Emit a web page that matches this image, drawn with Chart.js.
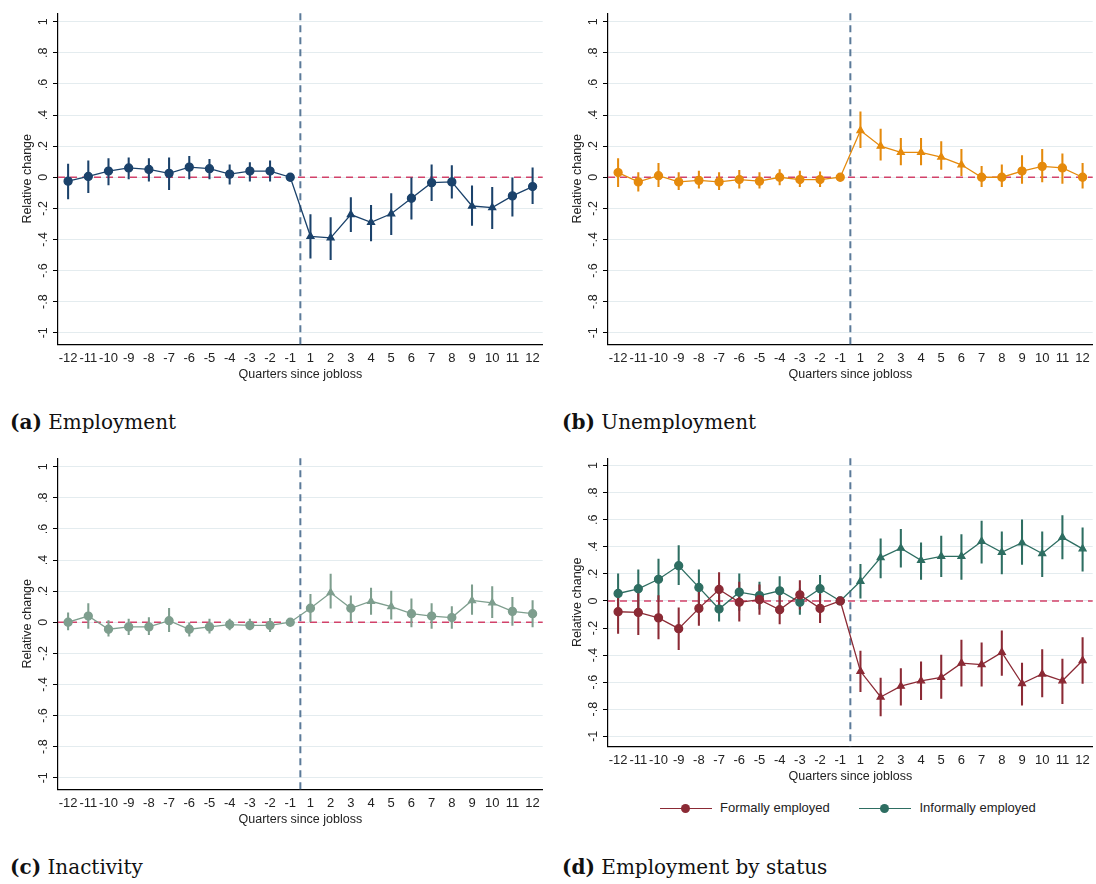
<!DOCTYPE html>
<html>
<head>
<meta charset="utf-8">
<script src="https://cdn.jsdelivr.net/npm/chart.js@4"></script>
<style>
  body { margin: 0; background: #fff; width: 1096px; height: 884px; position: relative; font-family: "Liberation Sans", Arial, sans-serif; }
  .box { position: absolute; }
  .cap { position: absolute; font-family: "DejaVu Serif", "Liberation Serif", serif; font-size: 20px; color: #111; }
  .cap b { font-weight: bold; }
  .legend { position: absolute; left: 660px; top: 800px; font-size: 13px; color: #222; }
  .legend span.item { display: inline-block; margin-right: 26px; }
  .sw { display: inline-block; position: relative; width: 52px; height: 10px; margin-right: 8px; vertical-align: middle; }
  .sw i { position: absolute; left: 0; right: 0; top: 4px; height: 1.5px; }
  .sw b { position: absolute; left: 21px; top: 0; width: 9px; height: 9px; border-radius: 50%; }
</style>
</head>
<body>
<div class="box" style="left:10px;top:4px;width:538px;height:378px"><canvas id="ca"></canvas></div>
<div class="box" style="left:560px;top:4px;width:538px;height:378px"><canvas id="cb"></canvas></div>
<div class="box" style="left:10px;top:449px;width:538px;height:378px"><canvas id="cc"></canvas></div>
<div class="box" style="left:560px;top:449px;width:538px;height:335px"><canvas id="cd"></canvas></div>
<div class="cap" style="left:10px;top:410px"><b>(a)</b> Employment</div>
<div class="cap" style="left:562px;top:410px"><b>(b)</b> Unemployment</div>
<div class="cap" style="left:10px;top:855px"><b>(c)</b> Inactivity</div>
<div class="cap" style="left:562px;top:855px"><b>(d)</b> Employment by status</div>
<div class="legend">
  <span class="item"><span class="sw"><i style="background:#8b2a35"></i><b style="background:#8b2a35"></b></span>Formally employed</span>
  <span class="item"><span class="sw"><i style="background:#2e6e62"></i><b style="background:#2e6e62"></b></span>Informally employed</span>
</div>
<script>
const quarters = ["-12","-11","-10","-9","-8","-7","-6","-5","-4","-3","-2","-1","1","2","3","4","5","6","7","8","9","10","11","12"];
const yTicks = [1, 0.8, 0.6, 0.4, 0.2, 0, -0.2, -0.4, -0.6, -0.8, -1];

// (a) Employment
const empEst = [-0.025,0.005,0.04,0.06,0.05,0.025,0.065,0.055,0.02,0.04,0.04,0, -0.38,-0.39,-0.24,-0.29,-0.235,-0.135,-0.035,-0.03,-0.185,-0.195,-0.12,-0.06];
const empLo  = [-0.14,-0.10,-0.05,-0.01,-0.025,-0.08,-0.01,-0.01,-0.045,-0.025,-0.025,0, -0.52,-0.53,-0.35,-0.41,-0.37,-0.27,-0.15,-0.135,-0.31,-0.33,-0.25,-0.17];
const empHi  = [0.085,0.105,0.12,0.125,0.12,0.125,0.135,0.115,0.08,0.095,0.105,0, -0.24,-0.26,-0.13,-0.18,-0.105,0,0.08,0.075,-0.055,-0.065,0,0.06];

// (b) Unemployment
const unEst = [0.03,-0.03,0.01,-0.03,-0.02,-0.03,-0.015,-0.025,0,-0.015,-0.015,0, 0.30,0.20,0.16,0.16,0.13,0.08,0,0,0.04,0.07,0.06,0];
const unLo  = [-0.06,-0.09,-0.06,-0.08,-0.07,-0.08,-0.07,-0.07,-0.05,-0.06,-0.06,0, 0.19,0.11,0.08,0.08,0.05,0.01,-0.06,-0.06,-0.04,-0.03,-0.04,-0.07];
const unHi  = [0.12,0.03,0.09,0.03,0.04,0.03,0.045,0.03,0.05,0.04,0.035,0, 0.42,0.31,0.25,0.25,0.23,0.18,0.07,0.08,0.14,0.18,0.15,0.09];

// (c) Inactivity
const inEst = [0,0.04,-0.045,-0.03,-0.03,0.01,-0.045,-0.03,-0.015,-0.02,-0.02,0, 0.09,0.19,0.09,0.135,0.10,0.055,0.04,0.03,0.14,0.125,0.07,0.055];
const inLo  = [-0.05,-0.04,-0.09,-0.08,-0.08,-0.06,-0.09,-0.07,-0.05,-0.05,-0.06,0, 0,0.09,0,0.05,0.02,-0.03,-0.04,-0.04,0.05,0.03,-0.02,-0.03];
const inHi  = [0.06,0.12,0.01,0.02,0.03,0.09,0,0.02,0.02,0.02,0.025,0, 0.18,0.31,0.17,0.22,0.20,0.15,0.12,0.10,0.24,0.23,0.16,0.14];

// (d) Formal / informal employment
const forEst = [-0.08,-0.085,-0.125,-0.205,-0.055,0.085,-0.01,0.01,-0.065,0.045,-0.055,0, -0.52,-0.71,-0.63,-0.59,-0.565,-0.46,-0.47,-0.38,-0.61,-0.54,-0.59,-0.44];
const forLo  = [-0.24,-0.25,-0.28,-0.36,-0.18,-0.04,-0.15,-0.10,-0.17,-0.06,-0.16,0, -0.67,-0.85,-0.77,-0.73,-0.72,-0.63,-0.63,-0.55,-0.77,-0.71,-0.76,-0.61];
const forHi  = [0.08,0.08,0.04,-0.05,0.08,0.21,0.14,0.12,0.05,0.15,0.05,0, -0.37,-0.57,-0.50,-0.45,-0.40,-0.29,-0.31,-0.22,-0.46,-0.36,-0.43,-0.27];
const infEst = [0.055,0.09,0.16,0.26,0.10,-0.06,0.065,0.04,0.075,-0.01,0.09,0, 0.145,0.32,0.39,0.30,0.33,0.33,0.44,0.36,0.43,0.35,0.47,0.385];
const infLo  = [-0.08,-0.05,0.01,0.12,-0.03,-0.15,-0.07,-0.06,-0.04,-0.10,-0.01,0, 0.02,0.17,0.25,0.16,0.18,0.16,0.28,0.20,0.27,0.18,0.31,0.22];
const infHi  = [0.20,0.23,0.31,0.41,0.23,0.04,0.20,0.14,0.18,0.09,0.19,0, 0.27,0.46,0.53,0.43,0.48,0.49,0.59,0.51,0.60,0.51,0.63,0.54];

// marker style: triangles after jobloss where the estimate differs from zero
function markers(est, lo, hi) {
  return est.map((v, i) => (i >= 12 && (lo[i] > 0 || hi[i] < 0)) ? "triangle" : "circle");
}

const refLines = {
  id: "refLines",
  beforeDatasetsDraw(chart) {
    const { ctx, chartArea, scales } = chart;
    const y0 = scales.y.getPixelForValue(0);
    const xm = (scales.x.getPixelForValue(11) + scales.x.getPixelForValue(12)) / 2;
    ctx.save();
    ctx.lineWidth = 1.5;
    ctx.setLineDash([7, 5]);
    ctx.strokeStyle = "#d2426a";
    ctx.beginPath(); ctx.moveTo(chartArea.left, y0); ctx.lineTo(chartArea.right, y0); ctx.stroke();
    ctx.lineWidth = 2;
    ctx.strokeStyle = "#5b7a99";
    ctx.beginPath(); ctx.moveTo(xm, chartArea.top); ctx.lineTo(xm, chartArea.bottom); ctx.stroke();
    ctx.restore();
  },
  afterDraw(chart) {
    // rotated y tick labels, as in the original
    const { ctx, scales } = chart;
    ctx.save();
    ctx.font = "12.5px 'Liberation Sans', Arial";
    ctx.fillStyle = "#222";
    ctx.textAlign = "center";
    ctx.textBaseline = "bottom";
    yTicks.forEach(v => {
      const y = scales.y.getPixelForValue(v);
      ctx.save();
      ctx.translate(scales.y.right - 8, y);
      ctx.rotate(-Math.PI / 2);
      ctx.fillText(fmt(v), 0, 0);
      ctx.restore();
    });
    ctx.restore();
  }
};

function fmt(v) {
  if (Math.abs(v) < 1e-9) return "0";
  let s = String(Math.round(v * 10) / 10);
  return s.replace("0.", ".");
}

function makeChart(id, series) {
  const datasets = [];
  series.forEach(s => {
    datasets.push({
      type: "line", data: s.est, borderColor: s.color, backgroundColor: s.color,
      borderWidth: 1.3, pointStyle: markers(s.est, s.lo, s.hi), pointRadius: 4, order: 1
    });
    datasets.push({
      type: "bar", data: s.lo.map((l, i) => [l, s.hi[i]]), backgroundColor: s.color,
      barThickness: 1.4, grouped: false, order: 2
    });
  });
  new Chart(document.getElementById(id), {
    data: { labels: quarters, datasets },
    options: {
      responsive: true, maintainAspectRatio: false, animation: false,
      layout: { padding: { top: 6, right: 4, left: 10 } },
      plugins: { legend: { display: false }, tooltip: { enabled: false } },
      scales: {
        x: {
          offset: true,
          grid: { display: false, drawTicks: true, tickLength: 5, tickColor: "#000" },
          border: { color: "#000", width: 1.2 },
          ticks: { color: "#222", font: { size: 13, family: "'Liberation Sans', Arial" }, maxRotation: 0, autoSkip: false, padding: 1 },
          title: { display: true, text: "Quarters since jobloss", color: "#222", font: { size: 12.5, family: "'Liberation Sans', Arial" }, padding: 0 }
        },
        y: {
          min: -1.075, max: 1.055,
          afterBuildTicks: sc => { sc.ticks = yTicks.map(v => ({ value: v })); },
          grid: { color: "#e4ecef", tickLength: 5, tickColor: "#000" },
          border: { color: "#000", width: 1.2 },
          ticks: { color: "rgba(0,0,0,0)", font: { size: 12 }, callback: () => "-.8", padding: 2 },
          title: { display: true, text: "Relative change", color: "#222", font: { size: 12.5, family: "'Liberation Sans', Arial" }, padding: 0 }
        }
      }
    },
    plugins: [refLines]
  });
}

makeChart("ca", [{ est: empEst, lo: empLo, hi: empHi, color: "#1b426b" }]);
makeChart("cb", [{ est: unEst, lo: unLo, hi: unHi, color: "#e58a0c" }]);
makeChart("cc", [{ est: inEst, lo: inLo, hi: inHi, color: "#7e9e8e" }]);
makeChart("cd", [
  { est: forEst, lo: forLo, hi: forHi, color: "#8b2a35" },
  { est: infEst, lo: infLo, hi: infHi, color: "#2e6e62" }
]);
</script>
</body>
</html>
